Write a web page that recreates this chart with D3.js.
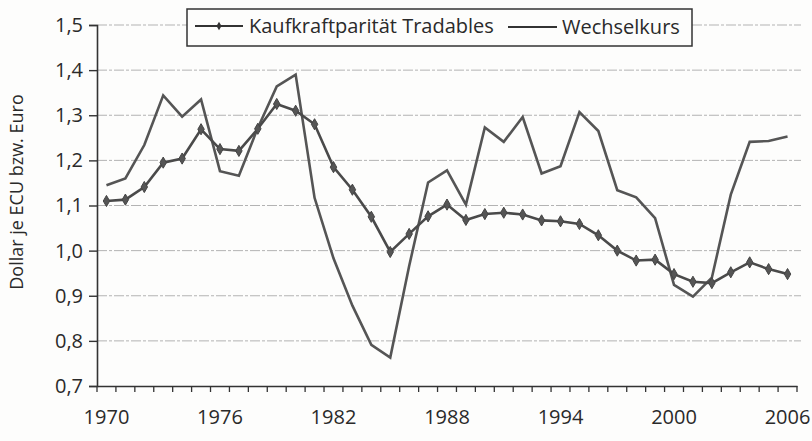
<!DOCTYPE html>
<html><head><meta charset="utf-8">
<script src="https://cdn.jsdelivr.net/npm/d3@7"></script>
<style>
html,body{margin:0;padding:0;background:#fdfdfc;}
svg{display:block;}
text{font-family:"Open Sans","Noto Sans",sans-serif;fill:#2a2a2a;}
</style></head>
<body><svg id="c" width="812" height="441"></svg>
<script>
const years = d3.range(1970, 2007);
const pppTradables = [1.110,1.113,1.141,1.195,1.204,1.269,1.225,1.221,1.270,1.325,1.310,
  1.280,1.185,1.135,1.075,0.997,1.037,1.076,1.102,1.068,1.081,1.084,1.080,1.067,1.065,
  1.059,1.034,1.000,0.978,0.980,0.948,0.931,0.928,0.952,0.974,0.959,0.948];
const wechselkurs = [1.145,1.160,1.234,1.344,1.297,1.335,1.176,1.166,1.272,1.364,1.390,
  1.117,0.983,0.878,0.791,0.763,0.966,1.151,1.178,1.102,1.273,1.241,1.296,1.171,1.187,
  1.307,1.265,1.134,1.118,1.072,0.924,0.898,0.940,1.124,1.241,1.243,1.253];
const yTicks = [0.7,0.8,0.9,1.0,1.1,1.2,1.3,1.4,1.5];
const xLabels = [1970,1976,1982,1988,1994,2000,2006];
const seriesNames = ["Kaufkraftparität Tradables","Wechselkurs"];

const svg = d3.select("#c");
const L = 97, R = 797, T = 25, B = 386;
const x = d3.scaleBand().domain(years).range([L, R]);
const y = d3.scaleLinear().domain([0.7, 1.5]).range([B, T]);
const cx = d => x(d) + x.bandwidth()/2;
const fmt = v => d3.format(".1f")(v).replace(".", ",");

// gridlines
svg.append("g").selectAll("line").data(yTicks.filter(v => v > 0.7)).join("line")
  .attr("x1", L).attr("x2", 801).attr("y1", d => y(d)).attr("y2", d => y(d))
  .attr("stroke", "#b3b3b3").attr("stroke-width", 1).attr("stroke-dasharray", "10,2,3,2");

// y axis
const ya = svg.append("g").attr("transform", `translate(${L},0)`)
  .call(d3.axisLeft(y).tickValues(yTicks).tickFormat(fmt).tickSize(8).tickPadding(6));
ya.select(".domain").attr("stroke", "#333").attr("stroke-width", 1.6);
ya.selectAll(".tick line").attr("stroke", "#333").attr("stroke-width", 1.4);
ya.selectAll("text").attr("font-size", 20).attr("fill", "#2a2a2a");

// x axis
const xa = svg.append("g").attr("transform", `translate(0,${B})`)
  .call(d3.axisBottom(x).tickValues([]).tickSizeOuter(0));
xa.select(".domain").attr("stroke", "#333").attr("stroke-width", 1.6);
const edges = years.map(d => x(d)).concat([R]);
xa.append("g").selectAll("line").data(edges).join("line")
  .attr("x1", d => d).attr("x2", d => d).attr("y1", 0).attr("y2", 6)
  .attr("stroke", "#333").attr("stroke-width", 1.3);
xa.append("g").selectAll("text").data(xLabels).join("text")
  .attr("x", d => cx(d)).attr("y", 38).attr("text-anchor", "middle")
  .attr("font-size", 20).attr("fill", "#2a2a2a").text(d => d);

// y title
svg.append("text").attr("transform", "translate(23,192) rotate(-90)")
  .attr("text-anchor", "middle").attr("font-size", 18).text("Dollar je ECU bzw. Euro");

// lines
const line = d3.line().x((d, i) => cx(years[i])).y(d => y(d));
svg.append("path").datum(wechselkurs).attr("d", line)
  .attr("fill", "none").attr("stroke", "#555").attr("stroke-width", 2.6)
  .attr("stroke-linejoin", "miter");
svg.append("path").datum(pppTradables).attr("d", line)
  .attr("fill", "none").attr("stroke", "#4a4a4a").attr("stroke-width", 2.6);
const diamond = d3.symbol().type(d3.symbolDiamond).size(36);
svg.append("g").selectAll("path").data(pppTradables).join("path")
  .attr("transform", (d, i) => `translate(${cx(years[i])},${y(d)})`)
  .attr("d", diamond).attr("fill", "#555").attr("stroke", "#444").attr("stroke-width", 1);

// legend
const lg = svg.append("g");
lg.append("rect").attr("x", 187).attr("y", 9).attr("width", 505).attr("height", 37)
  .attr("fill", "#fdfdfc").attr("stroke", "#333").attr("stroke-width", 1.5);
lg.append("line").attr("x1", 195).attr("x2", 243).attr("y1", 26).attr("y2", 26)
  .attr("stroke", "#333").attr("stroke-width", 2);
lg.append("path").attr("transform", "translate(219,26)")
  .attr("d", d3.symbol().type(d3.symbolDiamond).size(22)).attr("fill", "#333");
lg.append("text").attr("x", 249).attr("y", 33).attr("font-size", 20).text(seriesNames[0]);
lg.append("line").attr("x1", 508).attr("x2", 557).attr("y1", 27).attr("y2", 27)
  .attr("stroke", "#333").attr("stroke-width", 2);
lg.append("text").attr("x", 562).attr("y", 34).attr("font-size", 20).text(seriesNames[1]);
</script></body></html>
